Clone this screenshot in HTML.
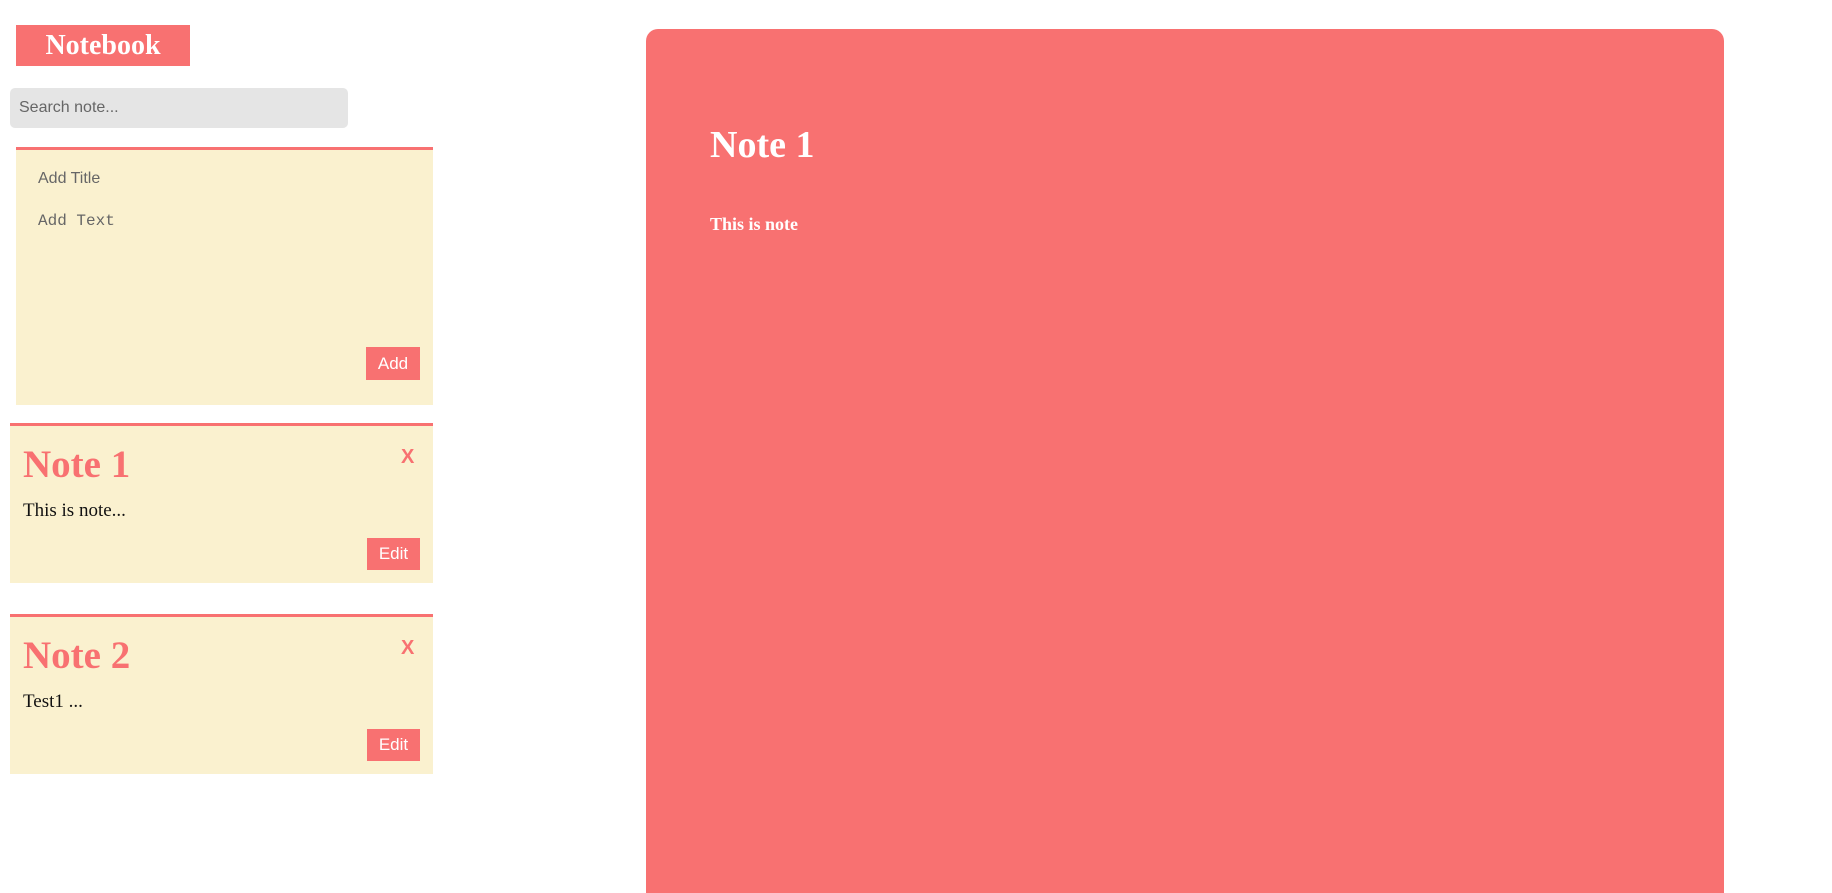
<!DOCTYPE html>
<html style="margin:0;height:893px;overflow:hidden"><head><meta charset="utf-8"><style>
body{margin:0;width:1832px;height:893px;overflow:hidden;background:#fff;position:relative;font-family:"Liberation Serif",serif}
.abs{position:absolute}
.red{background:#f87171}
.card{position:absolute;background:#faf1cf;border-top:3px solid #f87171;box-sizing:border-box}
.btn{position:absolute;background:#f87171;color:#fff;font:17px "Liberation Sans",sans-serif;display:flex;align-items:center;justify-content:center}
.ntitle{position:absolute;left:13px;color:#f87171;font-weight:bold;font-size:39px;line-height:1}
.x{position:absolute;left:391px;color:#f87171;font:bold 20px "Liberation Sans",sans-serif}
.ntext{position:absolute;left:13px;font-size:19px;color:#111}
</style></head><body>
<div class="abs red" style="left:16px;top:25px;width:174px;height:41px;color:#fff;font-weight:bold;font-size:28px;text-align:center;line-height:41px">Notebook</div>
<div class="abs" style="left:10px;top:88px;width:338px;height:40px;background:#e5e5e5;border-radius:5px;font:16px 'Liberation Sans',sans-serif;color:#666;line-height:40px;text-indent:9px">Search note...</div>

<div class="card" style="left:16px;top:147px;width:417px;height:258px">
 <div class="abs" style="left:22px;top:20px;font:16px 'Liberation Sans',sans-serif;color:#666">Add Title</div>
 <div class="abs" style="left:22px;top:62px;font:16px 'Liberation Mono',monospace;color:#666">Add Text</div>
 <div class="btn" style="left:350px;top:197px;width:54px;height:33px">Add</div>
</div>

<div class="card" style="left:10px;top:423px;width:423px;height:160px">
 <div class="ntitle" style="top:19px">Note 1</div>
 <div class="x" style="top:20px">X</div>
 <div class="ntext" style="top:74px">This is note...</div>
 <div class="btn" style="left:357px;top:112px;width:53px;height:32px">Edit</div>
</div>

<div class="card" style="left:10px;top:614px;width:423px;height:160px">
 <div class="ntitle" style="top:19px">Note 2</div>
 <div class="x" style="top:20px">X</div>
 <div class="ntext" style="top:74px">Test1 ...</div>
 <div class="btn" style="left:357px;top:112px;width:53px;height:32px">Edit</div>
</div>

<div class="abs red" style="left:646px;top:29px;width:1078px;height:864px;border-radius:12px 12px 0 0">
 <div class="abs" style="left:64px;top:94px;color:#fff;font-weight:bold;font-size:38px;line-height:1.2">Note 1</div>
 <div class="abs" style="left:64px;top:185px;color:#fff;font-weight:bold;font-size:18px">This is note</div>
</div>
</body></html>
